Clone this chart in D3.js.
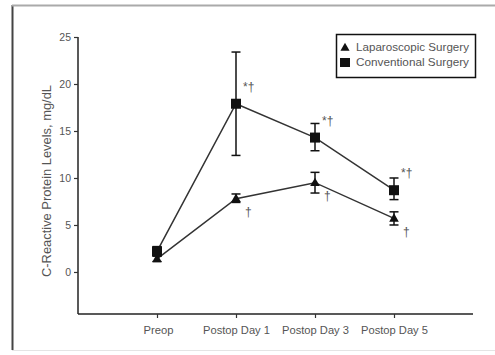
<!DOCTYPE html>
<html>
<head>
<meta charset="utf-8">
<script src="https://cdn.jsdelivr.net/npm/d3@7/dist/d3.min.js"></script>
<style>
  html, body { margin: 0; padding: 0; background: #fff; }
  svg { display: block; font-family: "Liberation Sans", Arial, sans-serif; }
</style>
</head>
<body>
<svg id="chart" width="495" height="355"></svg>
<script>
// Time points
const categories = ["Preop", "Postop Day 1", "Postop Day 3", "Postop Day 5"];
// Mean CRP (mg/dL) and error bar bounds
const laparoscopic = [1.4, 7.8, 9.5, 5.7];
const laparoscopicLow = [1.1, 7.4, 8.4, 5.0];
const laparoscopicHigh = [1.7, 8.3, 10.6, 6.4];
const conventional = [2.2, 17.9, 14.3, 8.7];
const conventionalLow = [1.7, 12.4, 12.9, 7.7];
const conventionalHigh = [2.7, 23.4, 15.8, 10.0];
// Significance markers
const conventionalMarks = ["", "*†", "*†", "*†"];
const laparoscopicMarks = ["", "†", "†", "†"];
const yTicks = [0, 5, 10, 15, 20, 25];
const seriesNames = ["Laparoscopic Surgery", "Conventional Surgery"];

const svg = d3.select("#chart");
const textColor = "#555";
const font = "Liberation Sans, Arial, sans-serif";

// Outer frame (left and top edges)
svg.append("line").attr("x1", 12.5).attr("x2", 12.5).attr("y1", 5).attr("y2", 350)
  .attr("stroke", "#444").attr("stroke-width", 2);
svg.append("line").attr("x1", 12).attr("x2", 495).attr("y1", 5.5).attr("y2", 5.5)
  .attr("stroke", "#aaa").attr("stroke-width", 2);
svg.append("line").attr("x1", 12).attr("x2", 495).attr("y1", 350.5).attr("y2", 350.5)
  .attr("stroke", "#e4e4e4").attr("stroke-width", 1);

const plotLeft = 78, plotRight = 473, plotTop = 37, plotBottom = 314;

const y = d3.scaleLinear().domain([-4.47, 25]).range([plotBottom, plotTop]);
const x = d3.scalePoint().domain(categories).range([157, 394]);

// Y axis
const yAxis = svg.append("g").attr("transform", `translate(${plotLeft},0)`)
  .call(d3.axisLeft(y).tickValues(yTicks).tickSize(4).tickPadding(3));
yAxis.select(".domain").attr("d", `M0,${y(25)}V${plotBottom}`).attr("stroke", "#222").attr("stroke-width", 1.5);
yAxis.selectAll(".tick line").attr("stroke", "#333").attr("stroke-width", 1.2);
yAxis.selectAll(".tick text").attr("fill", textColor).attr("font-size", 10.5).attr("font-family", font);

// X axis
const xAxis = svg.append("g").attr("transform", `translate(0,${plotBottom})`)
  .call(d3.axisBottom(x).tickSize(4).tickPadding(8));
xAxis.select(".domain").attr("d", `M${plotLeft},0H${plotRight}`).attr("stroke", "#222").attr("stroke-width", 1.5);
xAxis.selectAll(".tick line").attr("stroke", "#333").attr("stroke-width", 1.2);
xAxis.selectAll(".tick text").attr("fill", textColor).attr("font-size", 11.5).attr("font-family", font)
  .attr("dx", d => d === "Preop" ? 1 : 0)
  .attr("textLength", d => d === "Preop" ? 30 : 67).attr("lengthAdjust", "spacingAndGlyphs");

// Y axis title
svg.append("text")
  .attr("transform", "translate(48,181) rotate(-90)")
  .attr("text-anchor", "middle").attr("dominant-baseline", "middle")
  .attr("font-size", 12).attr("fill", textColor)
  .attr("textLength", 192).attr("lengthAdjust", "spacingAndGlyphs")
  .text("C-Reactive Protein Levels, mg/dL");

const line = d3.line().x((d, i) => x(categories[i])).y(d => y(d));

function drawSeries(values, lows, highs, marker) {
  const g = svg.append("g");
  g.append("path").datum(values).attr("d", line)
    .attr("fill", "none").attr("stroke", "#333").attr("stroke-width", 1.5);
  values.forEach((v, i) => {
    const cx = x(categories[i]);
    g.append("line").attr("x1", cx).attr("x2", cx).attr("y1", y(lows[i])).attr("y2", y(highs[i]))
      .attr("stroke", "#111").attr("stroke-width", 1.5);
    [lows[i], highs[i]].forEach(b => {
      g.append("line").attr("x1", cx - 4.5).attr("x2", cx + 4.5).attr("y1", y(b)).attr("y2", y(b))
        .attr("stroke", "#111").attr("stroke-width", 1.5);
    });
    if (marker === "square") {
      g.append("rect").attr("x", cx - 5).attr("y", y(v) - 5).attr("width", 10).attr("height", 10)
        .attr("fill", "#111");
    } else {
      g.append("path").attr("d", d3.symbol(d3.symbolTriangle, 40)())
        .attr("transform", `translate(${cx},${y(v) + 0.5})`).attr("fill", "#111");
    }
  });
}

drawSeries(laparoscopic, laparoscopicLow, laparoscopicHigh, "triangle");
drawSeries(conventional, conventionalLow, conventionalHigh, "square");

// Significance annotations
conventionalMarks.forEach((m, i) => {
  if (!m) return;
  svg.append("text").attr("x", x(categories[i]) + 7).attr("y", y(conventional[i]) - 16)
    .attr("dominant-baseline", "middle")
    .attr("font-size", 12).attr("fill", textColor).text(m);
});
laparoscopicMarks.forEach((m, i) => {
  if (!m) return;
  svg.append("text").attr("x", x(categories[i]) + 9).attr("y", y(laparoscopic[i]) + 14)
    .attr("dominant-baseline", "middle")
    .attr("font-size", 12).attr("fill", textColor).text(m);
});

// Legend
const legend = svg.append("g").attr("transform", "translate(336,34)");
legend.append("rect").attr("x", 0.5).attr("y", 0.5).attr("width", 139).attr("height", 43)
  .attr("fill", "#fff").attr("stroke", "#111").attr("stroke-width", 1.5);
legend.append("path").attr("d", d3.symbol(d3.symbolTriangle, 36)())
  .attr("transform", "translate(9,14)").attr("fill", "#111");
legend.append("rect").attr("x", 4).attr("y", 24).attr("width", 10).attr("height", 9).attr("fill", "#111");
seriesNames.forEach((name, i) => {
  legend.append("text").attr("x", 20).attr("y", 14 + i * 15).attr("dominant-baseline", "middle")
    .attr("font-size", 11).attr("fill", textColor).attr("textLength", 113).attr("lengthAdjust", "spacingAndGlyphs")
    .text(name);
});
</script>
</body>
</html>
